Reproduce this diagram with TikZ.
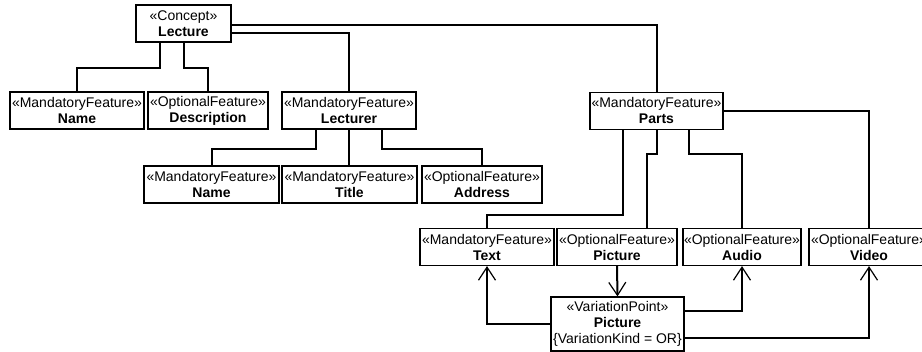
\documentclass[tikz,border=0pt]{standalone}
\usepackage{fontspec}
\setmainfont{Liberation Sans}
\usetikzlibrary{arrows.meta, positioning, calc}

\begin{document}
\begin{tikzpicture}[
                x=1pt, y=-1pt,
                feature/.style={rectangle, draw, line width=1.2pt, minimum height=37pt,
                    inner sep=0pt, align=center, font=\fontsize{14}{16}\selectfont},
                conn/.style={line width=2pt},
                varr/.style={conn, -{Straight Barb[length=13pt, width=17pt, line width=1.2pt]}}
            ]
                \fill[white] (0,0) rectangle (922,352);
                \useasboundingbox (0,0) rectangle (922,352);

                % Nodes
                \node[feature, minimum width=95pt] (lec) at (183.5,23.5) {«Concept»\\\textbf{Lecture}};
                \node[feature, minimum width=134pt] (nm1) at (77,110.5) {«MandatoryFeature»\\\textbf{Name}};
                \node[feature, minimum width=120pt] (descr) at (208,110.5) {«OptionalFeature»\\\textbf{Description}};
                \node[feature, minimum width=134pt] (lecr) at (349,110.5) {«MandatoryFeature»\\\textbf{Lecturer}};
                \node[feature, minimum width=133pt] (parts) at (656.5,111) {«MandatoryFeature»\\\textbf{Parts}};
                \node[feature, minimum width=135pt] (nm2) at (211.5,184.5) {«MandatoryFeature»\\\textbf{Name}};
                \node[feature, minimum width=135pt] (title) at (349.5,184.5) {«MandatoryFeature»\\\textbf{Title}};
                \node[feature, minimum width=120pt] (addr) at (482,184.5) {«OptionalFeature»\\\textbf{Address}};
                \node[feature, minimum width=134pt] (text) at (487,247) {«MandatoryFeature»\\\textbf{Text}};
                \node[feature, minimum width=120pt] (pic) at (617,247) {«OptionalFeature»\\\textbf{Picture}};
                \node[feature, minimum width=118pt] (audio) at (742,247) {«OptionalFeature»\\\textbf{Audio}};
                \node[feature, minimum width=120pt] (video) at (869,247) {«OptionalFeature»\\\textbf{Video}};
                \node[feature, minimum width=133pt, minimum height=54pt] (vp) at (617.5,324)
                    {«VariationPoint»\\\textbf{Picture}\\\{VariationKind = OR\}};

                % Edges
                \draw[conn] ([yshift=-1.5pt]lec.east) -| (parts.north);
                \draw[conn] ([yshift=-9.5pt]lec.east) -| (lecr.north);
                \draw[conn] ([xshift=-23.5pt]lec.south) -- ++(0,25) -| (nm1.north);
                \draw[conn] (lec.south) -- ++(0,25) -| (descr.north);
                \draw[conn] ([xshift=-33pt]lecr.south) -- ++(0,19) -| (nm2.north);
                \draw[conn] (lecr.south) -- (lecr.south |- title.north);
                \draw[conn] ([xshift=33pt]lecr.south) -- ++(0,19) -| (addr.north);
                \draw[conn] ([xshift=-33.5pt]parts.south) -- ++(0,85) -| (text.north);
                \draw[conn] (parts.south) -- ++(0,24) -| ([xshift=30pt]pic.north);
                \draw[conn] ([xshift=32.5pt]parts.south) -- ++(0,24) -| (audio.north);
                \draw[conn] (parts.east) -| (video.north);

                % Variation point
                \draw[varr] (pic.south) -- (vp.north);
                \draw[varr] (vp.west) -| (text.south);
                \draw[varr] ([yshift=13pt]vp.east) -| (audio.south);
                \draw[varr] ([yshift=-14pt]vp.east) -| (video.south);
            \end{tikzpicture}
\end{document}
